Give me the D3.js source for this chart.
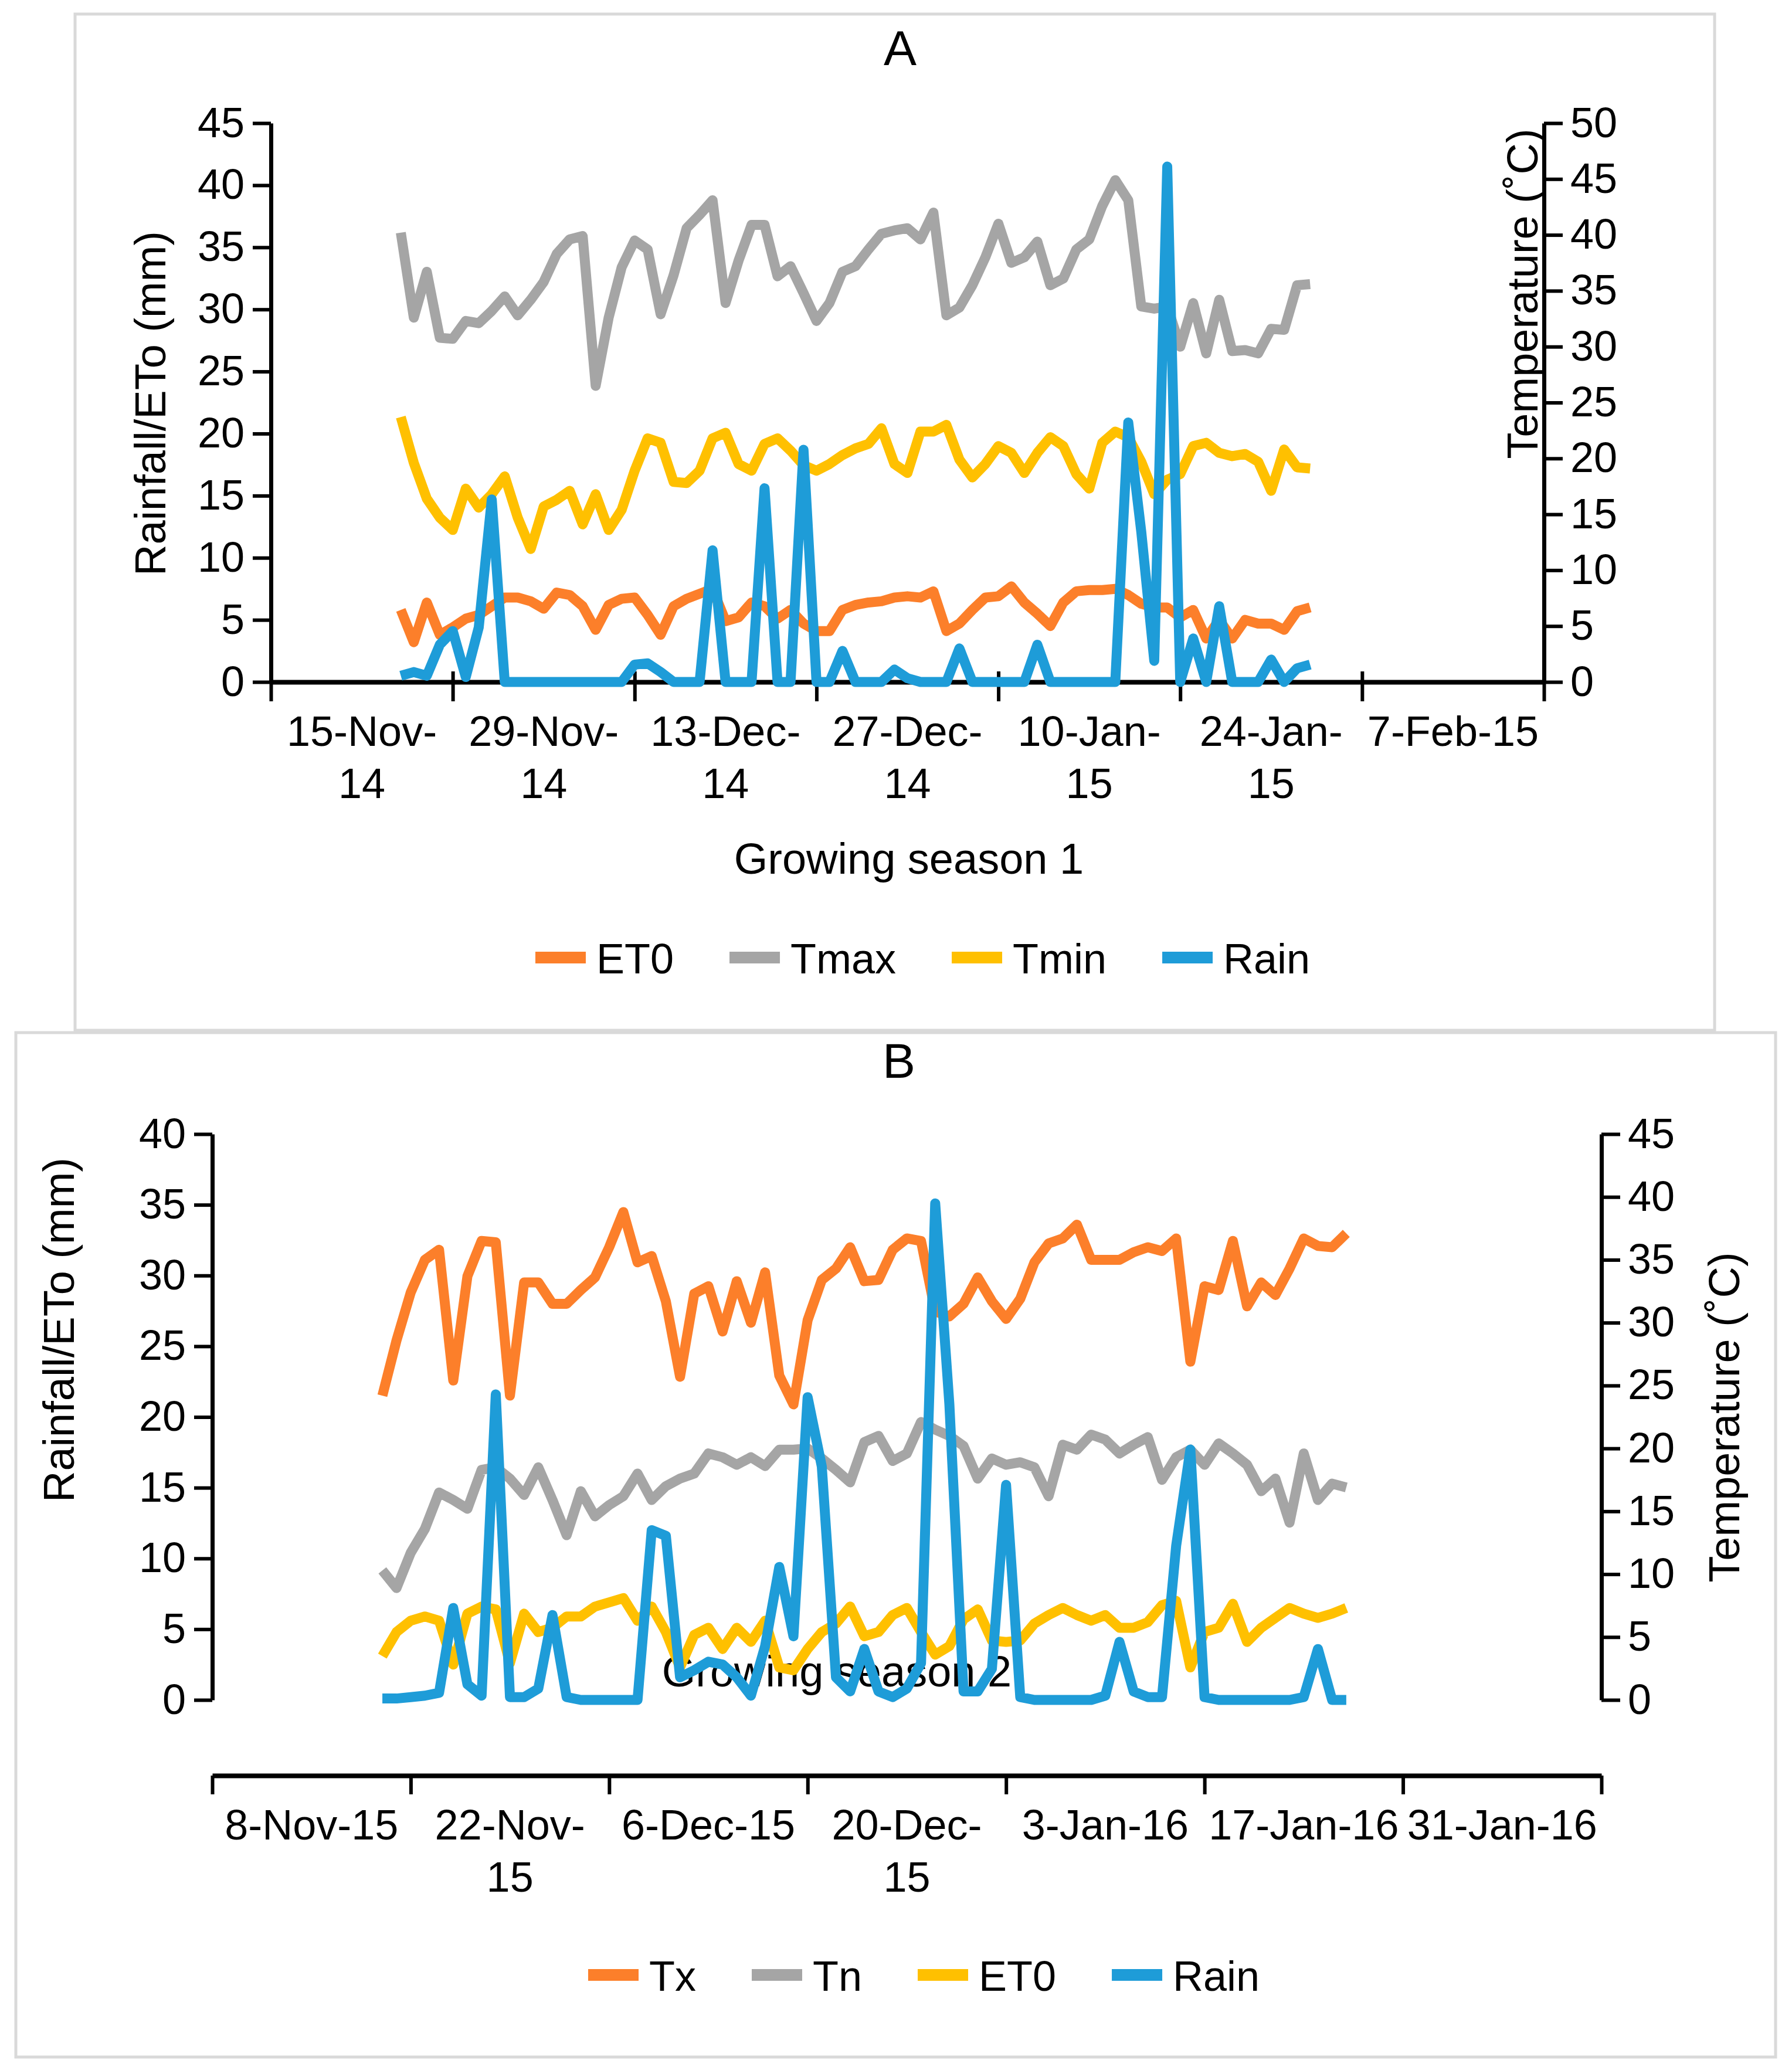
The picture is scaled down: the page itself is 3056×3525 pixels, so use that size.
<!DOCTYPE html>
<html>
<head>
<meta charset="utf-8">
<title>Rainfall, ETo and temperature - two growing seasons</title>
<script src="https://d3js.org/d3.v7.min.js"></script>
<style>
  body { margin: 0; background: #fff; }
  text { font-family: "Liberation Sans", Arial, sans-serif; fill: #000; }
</style>
</head>
<body>
<svg width="3056" height="3525"></svg>
<script>
// ---- season 1 (panel A), daily values from 25-Nov-14 ----
var firstDayA = "2014-11-25";
var tickLabelsA = ["15-Nov-14", "29-Nov-14", "13-Dec-14", "27-Dec-14", "10-Jan-15", "24-Jan-15", "7-Feb-15"];
var et0A = [5.8,3.2,6.4,3.8,4.4,5.1,5.4,6.1,6.8,6.8,
            6.5,5.9,7.2,7.0,6.1,4.2,6.2,6.7,6.8,5.4,
            3.8,6.1,6.7,7.1,7.5,4.9,5.2,6.4,6.1,5.1,
            5.8,4.7,4.1,4.1,5.8,6.2,6.4,6.5,6.8,6.9,
            6.8,7.3,4.1,4.7,5.8,6.8,6.9,7.7,6.4,5.5,
            4.5,6.4,7.3,7.4,7.4,7.5,7.0,6.3,6.0,6.0,
            5.2,5.8,3.5,5.0,3.5,5.0,4.7,4.7,4.2,5.7,
            6.0];
var tmaxA = [40.2,32.6,36.7,30.8,30.7,32.3,32.1,33.2,34.5,32.8,
             34.2,35.8,38.3,39.6,39.9,26.5,32.6,37.1,39.5,38.7,
             32.9,36.4,40.6,41.8,43.1,33.9,37.7,40.9,40.9,36.3,
             37.2,34.8,32.3,33.9,36.7,37.2,38.7,40.1,40.4,40.6,
             39.6,42.0,32.8,33.5,35.5,38.0,41.0,37.5,38.0,39.4,
             35.5,36.1,38.7,39.6,42.6,44.9,43.1,33.6,33.4,33.6,
             30.0,33.9,29.4,34.2,29.6,29.7,29.4,31.6,31.5,35.5,
             35.6];
var tminA = [23.7,19.6,16.4,14.7,13.6,17.3,15.6,16.8,18.4,14.7,
             11.9,15.7,16.3,17.1,14.1,16.8,13.6,15.4,18.9,21.8,
             21.4,17.9,17.8,18.9,21.8,22.3,19.5,18.9,21.3,21.8,
             20.7,19.4,18.9,19.5,20.3,20.9,21.3,22.7,19.5,18.7,
             22.4,22.4,23.0,19.9,18.3,19.5,21.1,20.5,18.7,20.5,
             21.9,21.1,18.6,17.3,21.4,22.4,21.9,19.7,16.8,18.1,
             18.6,21.1,21.4,20.5,20.2,20.4,19.7,17.1,20.8,19.2,
             19.1];
var rainA = [0.5,0.8,0.5,3.0,4.1,0.4,4.4,14.7,0,0,
             0,0,0,0,0,0,0,0,1.4,1.5,
             0.8,0,0,0,10.6,0,0,0,15.6,0,
             0,18.7,0,0,2.5,0,0,0,1.0,0.3,
             0,0,0,2.7,0,0,0,0,0,3.0,
             0,0,0,0,0,0,20.9,12.1,1.7,41.5,
             0,3.5,0,6.1,0,0,0,1.8,0,1.1,
             1.4];

// ---- season 2 (panel B), daily values from 20-Nov-15 ----
var firstDayB = "2015-11-20";
var tickLabelsB = ["8-Nov-15", "22-Nov-15", "6-Dec-15", "20-Dec-15", "3-Jan-16", "17-Jan-16", "31-Jan-16"];
var txB = [24.2,28.6,32.4,35.0,35.8,25.4,33.7,36.5,36.4,24.2,
           33.2,33.2,31.5,31.5,32.6,33.6,36.0,38.8,34.8,35.3,
           31.7,25.7,32.3,32.9,29.3,33.3,30.0,34.0,25.8,23.5,
           30.2,33.4,34.3,36.0,33.3,33.4,35.8,36.7,36.5,30.9,
           30.5,31.5,33.6,31.7,30.3,31.9,34.8,36.3,36.7,37.8,
           35.0,35.0,35.0,35.6,36.0,35.7,36.7,26.9,32.9,32.6,
           36.5,31.3,33.2,32.2,34.3,36.7,36.1,36.0,37.1];
var tnB = [10.3,8.9,11.7,13.6,16.5,15.9,15.2,18.3,18.5,17.6,
           16.3,18.5,15.9,13.1,16.6,14.6,15.5,16.2,18.0,15.9,
           17.0,17.6,18.0,19.6,19.3,18.7,19.3,18.6,19.9,19.9,
           20.0,19.2,18.3,17.3,20.5,21.0,19.0,19.6,22.1,21.5,
           21.0,20.2,17.6,19.2,18.7,18.9,18.5,16.2,20.3,19.9,
           21.1,20.7,19.6,20.3,20.9,17.5,19.3,19.9,18.7,20.4,
           19.6,18.7,16.6,17.6,14.1,19.6,15.9,17.2,16.9];
var et0B = [3.1,4.8,5.6,5.9,5.6,2.5,6.1,6.6,6.4,2.6,
            6.1,4.8,5.1,5.9,5.9,6.6,6.9,7.2,5.6,6.6,
            4.8,2.3,4.6,5.1,3.6,5.1,4.1,5.6,2.3,2.1,
            3.6,4.8,5.4,6.6,4.5,4.8,6.0,6.5,4.8,3.2,
            3.8,5.7,6.4,4.2,4.1,4.2,5.4,6.0,6.5,6.0,
            5.6,6.0,5.1,5.1,5.5,6.7,7.0,2.3,4.8,5.1,
            6.8,4.1,5.1,5.8,6.5,6.1,5.8,6.1,6.5];
var rainB = [0.1,0.1,0.2,0.3,0.5,6.5,1.1,0.3,21.6,0.2,
             0.2,0.8,6.0,0.2,0,0,0,0,0,12.0,
             11.6,1.6,2.1,2.7,2.5,1.6,0.3,3.8,9.4,4.5,
             21.4,16.5,1.6,0.6,3.6,0.6,0.2,0.8,2.6,35.1,
             20.9,0.6,0.6,2.2,15.2,0.2,0,0,0,0,
             0,0.3,4.1,0.6,0.2,0.2,10.9,17.7,0.2,0,
             0,0,0,0,0,0.2,3.6,0,0];

var colors = {orange: "#FC7F2A", gray: "#A5A5A5", yellow: "#FFC000", blue: "#1E9CD8"};

var svg = d3.select("svg");
var parseTick = d3.timeParse("%d-%b-%y"),
    parseDay = d3.timeParse("%Y-%m-%d");

svg.append("rect").attr("width", 3056).attr("height", 3525).attr("fill", "#fff");

function drawPanel(p) {
  var g = svg.append("g");
  g.append("rect")
    .attr("x", p.box[0]).attr("y", p.box[1])
    .attr("width", p.box[2] - p.box[0]).attr("height", p.box[3] - p.box[1])
    .attr("fill", "#fff").attr("stroke", "#d9d9d9").attr("stroke-width", 5);

  g.append("text").attr("x", p.titlePos[0]).attr("y", p.titlePos[1])
    .attr("text-anchor", "middle").style("font-size", "84px").text(p.title);

  // scales
  var t0 = parseTick(p.ticks[0]),
      t1 = d3.timeDay.offset(t0, 14 * p.ticks.length);
  var x = d3.scaleTime().domain([t0, t1]).range([p.left, p.right]);
  var yL = d3.scaleLinear().domain([0, p.maxL]).range([p.zero, p.top]);
  var yR = d3.scaleLinear().domain([0, p.maxR]).range([p.zero, p.top]);

  // left axis
  var ax = g.append("g").attr("transform", `translate(${p.left},0)`)
    .call(d3.axisLeft(yL).tickValues(d3.range(0, p.maxL + 1, 5)).tickSize(31).tickPadding(14).tickSizeOuter(0));
  // right axis
  var axR = g.append("g").attr("transform", `translate(${p.right},0)`)
    .call(d3.axisRight(yR).tickValues(d3.range(0, p.maxR + 1, 5)).tickSize(32).tickPadding(13).tickSizeOuter(0));
  [ax, axR].forEach(function(a) {
    a.attr("font-size", 72);
    a.select(".domain").attr("stroke", "#000").attr("stroke-width", 7);
    a.selectAll(".tick line").attr("stroke", "#000").attr("stroke-width", 6);
  });

  // date axis: tick marks at interval edges, labels centred in each interval
  var edges = d3.range(p.ticks.length + 1).map(k => d3.timeDay.offset(t0, 14 * k));
  var axB = g.append("g").attr("transform", `translate(0,${p.xAxisY})`)
    .call(d3.axisBottom(x).tickValues(edges).tickFormat("").tickSize(p.tickDown).tickSizeOuter(0));
  axB.select(".domain").attr("stroke", "#000").attr("stroke-width", 8);
  axB.selectAll(".tick line").attr("stroke", "#000").attr("stroke-width", 6).attr("y1", -p.tickUp);

  var slot = x(edges[1]) - x(edges[0]);
  p.ticks.forEach(function(lab, k) {
    var cx = x(d3.timeDay.offset(t0, 14 * k + 7));
    var t = g.append("text").attr("x", cx).attr("y", p.xAxisY + 109)
      .attr("text-anchor", "middle").style("font-size", "72px").text(lab);
    if (t.node().getComputedTextLength() > slot - 10) {
      var cut = lab.lastIndexOf("-") + 1;
      t.text(null);
      t.append("tspan").attr("x", cx).text(lab.slice(0, cut));
      t.append("tspan").attr("x", cx).attr("dy", 89).text(lab.slice(cut));
    }
  });

  // axis titles
  g.append("text").attr("transform", `translate(${p.titleL[0]},${p.titleL[1]}) rotate(-90)`)
    .attr("text-anchor", "middle").style("font-size", "74px").text("Rainfall/ETo (mm)");
  g.append("text").attr("transform", `translate(${p.titleR[0]},${p.titleR[1]}) rotate(-90)`)
    .attr("text-anchor", "middle").style("font-size", "74px").text("Temperature (˚C)");

  g.append("text").attr("x", p.season[0]).attr("y", p.season[1])
    .attr("text-anchor", "middle").style("font-size", "74px").text(p.seasonText);

  // series
  var start = parseDay(p.firstDay);
  p.series.forEach(function(s) {
    var y = s.axis === "L" ? yL : yR;
    var pts = s.values.map((v, i) => ({date: d3.timeDay.offset(start, i), v: v}));
    var line = d3.line().x(d => x(d.date)).y(d => y(d.v));
    g.append("path").datum(pts)
      .attr("d", line)
      .attr("fill", "none")
      .attr("stroke", s.color)
      .attr("stroke-width", 17)
      .attr("stroke-linejoin", "round");
  });

  // legend
  var lx = p.legend[0], ly = p.legend[1];
  p.series.forEach(function(s) {
    g.append("rect").attr("x", lx).attr("y", ly - 10).attr("width", 86).attr("height", 20).attr("fill", s.color);
    var t = g.append("text").attr("x", lx + 104).attr("y", ly + 27).style("font-size", "72px").text(s.name);
    lx += 104 + t.node().getComputedTextLength() + 95;
  });
}

drawPanel({
  box: [128, 24, 2924, 1757],
  title: "A", titlePos: [1535, 111],
  ticks: tickLabelsA, firstDay: firstDayA,
  left: 462, right: 2633, top: 210, zero: 1163,
  xAxisY: 1163, tickUp: 18, tickDown: 33,
  maxL: 45, maxR: 50,
  titleL: [282, 688], titleR: [2622, 501],
  season: [1550, 1490], seasonText: "Growing season 1",
  legend: [913, 1633],
  series: [
    {name: "ET0", values: et0A, axis: "L", color: colors.orange},
    {name: "Tmax", values: tmaxA, axis: "R", color: colors.gray},
    {name: "Tmin", values: tminA, axis: "R", color: colors.yellow},
    {name: "Rain", values: rainA, axis: "L", color: colors.blue}
  ]
});

drawPanel({
  box: [27, 1761, 3028, 3508],
  title: "B", titlePos: [1533, 1838],
  ticks: tickLabelsB, firstDay: firstDayB,
  left: 362, right: 2731, top: 1934, zero: 2899,
  xAxisY: 3028, tickUp: 0, tickDown: 32,
  maxL: 40, maxR: 45,
  titleL: [126, 2268], titleR: [2966, 2417],
  season: [1427, 2876], seasonText: "Growing season 2",
  legend: [1003, 3368],
  series: [
    {name: "Tx", values: txB, axis: "R", color: colors.orange},
    {name: "Tn", values: tnB, axis: "R", color: colors.gray},
    {name: "ET0", values: et0B, axis: "L", color: colors.yellow},
    {name: "Rain", values: rainB, axis: "L", color: colors.blue}
  ]
});
</script>
</body>
</html>
